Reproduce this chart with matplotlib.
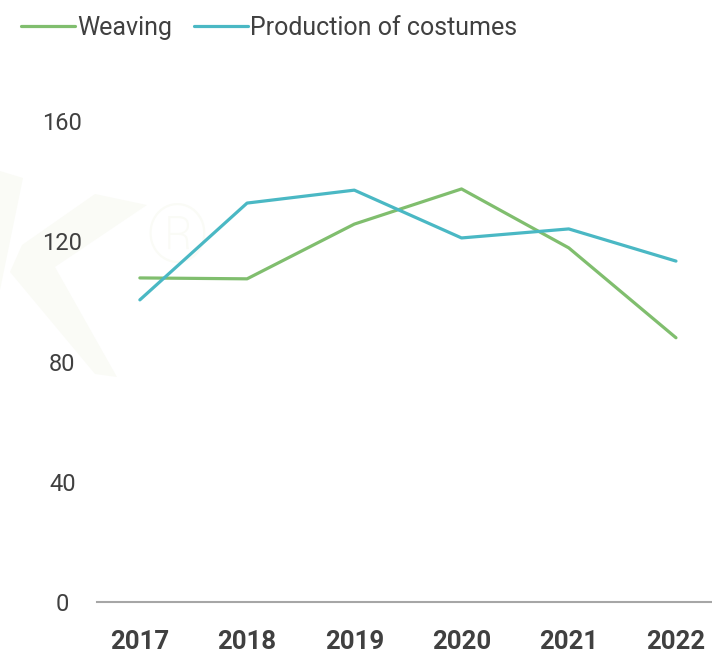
import numpy as np
import matplotlib.pyplot as plt
from matplotlib.patches import Polygon

years = ["2017", "2018", "2019", "2020", "2021", "2022"]
weaving = [107.8, 107.5, 125.7, 137.4, 117.8, 87.9]
costumes = [100.5, 132.7, 137.0, 121.1, 124.1, 113.4]
yticks = [0, 40, 80, 120, 160]

GREEN = "#80be6e"
TEAL = "#4ab8c4"
TEXT = "#404040"
MARK = "#fafbf6"

plt.rcParams["font.family"] = ["Roboto", "DejaVu Sans"]

fig = plt.figure(figsize=(7.12, 6.53), dpi=100)
W, H = 712.0, 653.0

# faint logo shapes behind the plot (pixel outline converted to figure fraction)
logo = [
    [(0, 171), (23, 178), (0, 290)],
    [(95, 194), (147, 205), (55, 267), (117, 377), (95, 374), (10, 272), (22, 245)],
]
for pts in logo:
    fig.patches.append(Polygon([(px / W, 1 - py / H) for px, py in pts],
                               closed=True, transform=fig.transFigure,
                               facecolor=MARK, edgecolor="none", zorder=0))
fig.text(177 / W, 1 - 240 / H, "®", fontsize=58, color=MARK, ha="center",
         va="center", fontweight="light", zorder=0)

ax = fig.add_axes([0.1362, 0.0781, 1 - 0.1362, 0.8147 - 0.0781])
ax.set_zorder(2)
ax.patch.set_alpha(0)

x = np.arange(len(years))
ax.plot(x, weaving, color=GREEN, lw=2.3, solid_capstyle="round",
        solid_joinstyle="round", label="Weaving")
ax.plot(x, costumes, color=TEAL, lw=2.3, solid_capstyle="round",
        solid_joinstyle="round", label="Production of costumes")

ax.set_xlim(-0.4, 5.336)
ax.set_ylim(0, 160)
ax.set_xticks(x)
ax.set_xticklabels(years, fontsize=18.5, fontweight="bold", color=TEXT)
ax.set_yticks(yticks)
ax.set_yticklabels([str(v) for v in yticks], fontsize=17, color=TEXT,
                   ha="center")
ax.tick_params(axis="both", length=0)
ax.tick_params(axis="x", pad=20)
ax.tick_params(axis="y", pad=25)

for side in ["top", "right", "left"]:
    ax.spines[side].set_visible(False)
ax.spines["bottom"].set_color("#a6a6a6")
ax.spines["bottom"].set_linewidth(1.5)

leg = fig.legend(loc="upper left", bbox_to_anchor=(0.03, 0.976), ncol=2,
                 frameon=False, handlelength=2.15, handletextpad=0.1,
                 columnspacing=0.85, borderaxespad=0, borderpad=0,
                 labelcolor=TEXT, prop={"size": 18})
leg.set_zorder(3)

fig.savefig("out.png", dpi=100)
